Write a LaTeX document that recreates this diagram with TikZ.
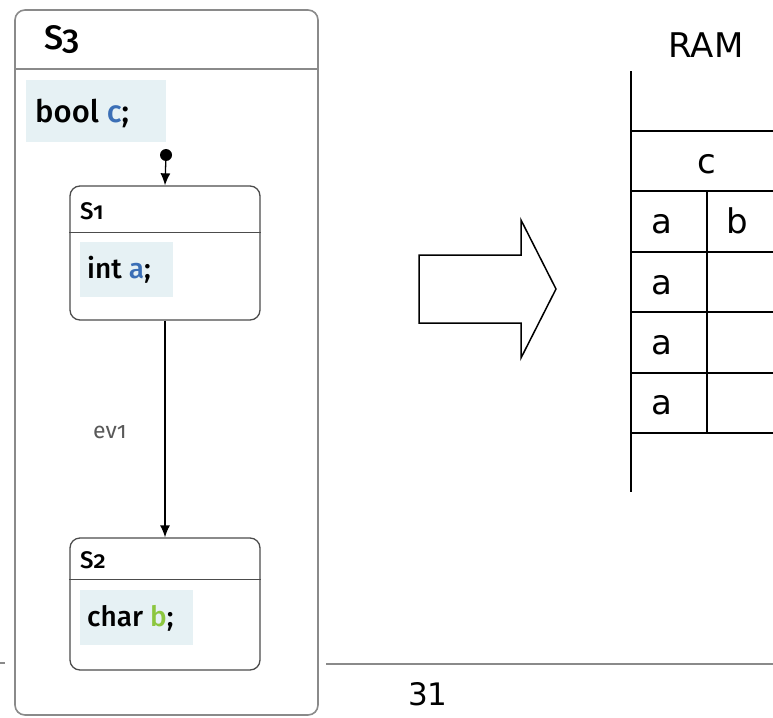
\documentclass[tikz,border=0pt]{standalone}
\usepackage{fontspec}
\setmainfont{DejaVu Sans}
\newfontfamily\umlfont[Numbers=OldStyle, UprightFont=* Medium]{Fira Sans}
\newfontfamily\umllabel[Numbers=OldStyle]{Fira Sans}
\usetikzlibrary{arrows.meta,positioning}

\definecolor{attrfill}{HTML}{E6F1F4}
\definecolor{varblue}{HTML}{3B6FB6}
\definecolor{vargreen}{HTML}{8CC63E}
\definecolor{framegray}{HTML}{8A8A8A}

\tikzset{
  statebox/.style={draw=black!70, line width=1.3pt, rounded corners=10pt, minimum width=190pt, inner sep=0pt},
  umltext/.style={anchor=base west, inner sep=0pt, font=\umlfont\fontsize{#1}{#1}\selectfont},
  ramtext/.style={inner sep=0pt, font=\fontsize{34}{34}\selectfont},
  ramline/.style={line width=1.4pt},
  trans/.style={line width=1.3pt, -{Latex[length=12pt,width=10pt]}}
}

\begin{document}
\begin{tikzpicture}[x=1pt, y=-1pt]
    \useasboundingbox (0,0) rectangle (773,717);

    % Outer state S3
    \node[draw=framegray, line width=1.6pt, rounded corners=10pt, minimum width=303pt, minimum height=705pt, inner sep=0pt] (s3) at (166.5,362.5) {};
    \draw[framegray, line width=1.6pt] ([yshift=-60pt]s3.north west) -- ([yshift=-60pt]s3.north east);
    \node[umltext=34] (s3name) at (44,50) {S3};
    \fill[attrfill] (26,80) rectangle (166,142);
    \node[umltext=31] (s3attr) at (35,122) {bool \textcolor{varblue}{c};};

    % Inner states
    \node[statebox, minimum height=134pt] (s1) at (165,253) {};
    \draw[black!70, line width=1.3pt] ([yshift=-47pt]s1.north west) -- ([yshift=-47pt]s1.north east);
    \node[umltext=24] (s1name) at (80,219) {S1};
    \fill[attrfill] (80,242) rectangle (173,297);
    \node[umltext=28] (s1attr) at (87,278) {int \textcolor{varblue}{a};};

    \node[statebox, minimum height=132pt] (s2) at (165,604) {};
    \draw[black!70, line width=1.3pt] ([yshift=-42pt]s2.north west) -- ([yshift=-42pt]s2.north east);
    \node[umltext=24] (s2name) at (80,568) {S2};
    \fill[attrfill] (80,590) rectangle (193,645);
    \node[umltext=28] (s2attr) at (87,626) {char \textcolor{vargreen}{b};};

    % Transitions
    \node[circle, fill=black, minimum size=12pt, inner sep=0pt] (init) at (166,155) {};
    \draw[trans] (init) -- (s1.north);
    \draw[trans] (s1.south) -- (s2.north);
    \node[anchor=base west, inner sep=0pt, font=\umllabel\fontsize{23}{23}\selectfont, text=black!65] (ev) at (93,438) {ev1};

    % Big arrow
    \draw[line width=1.5pt] (419,255) -- (521,255) -- (521,220) -- (556,289)
      -- (521,358) -- (521,323) -- (419,323) -- cycle;

    % RAM
    \node[ramtext] (ram) at (706,45) {RAM};
    \draw[ramline] (631,71) -- (631,492);
    \foreach \y in {131,191,252,312,373,433}
      \draw[ramline] (631,\y) -- (773,\y);
    \draw[ramline] (707,191) -- (707,433);
    \node[ramtext, anchor=base] (cellc) at (707,173) {c};
    \node[ramtext, anchor=base] (cella1) at (662,233) {a};
    \node[ramtext, anchor=base] (cellb1) at (737,233) {b};
    \node[ramtext, anchor=base] (cella2) at (662,294) {a};
    \node[ramtext, anchor=base] (cella3) at (662,354) {a};
    \node[ramtext, anchor=base] (cella4) at (662,414) {a};

    % Footer
    \draw[framegray, line width=1.8pt] (326,664) -- (773,664);
    \draw[framegray, line width=1.8pt] (0,663) -- (5,663);
    \node[inner sep=0pt, anchor=base, font=\fontsize{31}{31}\selectfont] (page) at (428,705) {31};

\end{tikzpicture}
\end{document}
